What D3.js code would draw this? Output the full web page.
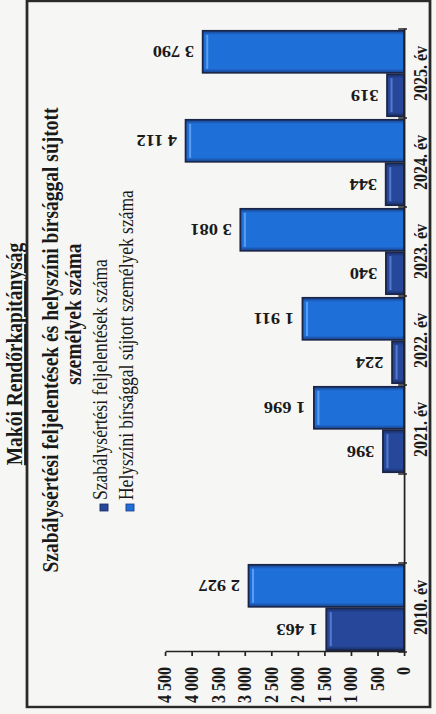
<!DOCTYPE html>
<html>
  <head>
    <meta charset="utf-8">
    <script type="text/javascript" src="https://d3js.org/d3.v7.min.js"></script>
    <style>
      body { margin: 0; background: #f6f6f4; }
    </style>
  </head>
  <body>
  </body>
  <script>

  // data
  var years = ["2010. év", "", "2021. év", "2022. év", "2023. év", "2024. év", "2025. év"];
  var seriesNames = ["Szabálysértési feljelentések száma", "Helyszíni bírsággal sújtott személyek száma"];
  var feljelentesek = [1463, null, 396, 224, 340, 344, 319];
  var helyszini = [2927, null, 1696, 1911, 3081, 4112, 3790];
  var valueTicks = [0, 500, 1000, 1500, 2000, 2500, 3000, 3500, 4000, 4500];

  var colors = ["#27489a", "#1f6fd9"];
  var edgeColors = ["#172c62", "#173f86"];
  var lightColors = ["#5a82d2", "#63a6f2"];
  var serif = "'Liberation Serif', 'Times New Roman', serif";

  // the scanned page is turned on its side, and a bit stretched across
  var K = 1.15;
  var H = 714;
  function vx(sx) { return sx / K; }     // screen x -> local v
  function uy(sy) { return H - sy; }     // screen y -> local u

  var svg = d3.select("body").append("svg")
              .attr("width", 436)
              .attr("height", 714);

  svg.append("rect").attr("width", 436).attr("height", 714).attr("fill", "#f6f6f4");

  var g = svg.append("g")
             .attr("transform", "translate(0," + H + ") rotate(-90) scale(1," + K + ")");

  var defs = svg.append("defs");
  colors.forEach(function(c, i) {
    var grad = defs.append("linearGradient").attr("id", "bar" + i)
                   .attr("x1", 0).attr("x2", 1).attr("y1", 0).attr("y2", 0);
    grad.append("stop").attr("offset", 0).attr("stop-color", edgeColors[i]);
    grad.append("stop").attr("offset", 0.1).attr("stop-color", c);
    grad.append("stop").attr("offset", 0.9).attr("stop-color", c);
    grad.append("stop").attr("offset", 1).attr("stop-color", edgeColors[i]);
  });

  // frame
  g.append("rect")
   .attr("x", uy(707)).attr("y", vx(27))
   .attr("width", uy(1) - uy(707)).attr("height", vx(430) - vx(27))
   .attr("fill", "none").attr("stroke", "#2a2a2a").attr("stroke-width", 2.4);

  // header above the frame
  g.append("text")
   .attr("x", uy(354)).attr("y", vx(22))
   .attr("text-anchor", "middle")
   .style("font-family", serif).style("font-weight", "bold").style("font-size", "19.5px")
   .style("text-decoration", "underline")
   .attr("fill", "#1a1a1a")
   .text("Makói Rendőrkapitányság");

  // title
  var titleLines = ["Szabálysértési feljelentések és helyszíni bírsággal sújtott", "személyek száma"];
  var titleCenters = [uy(340), uy(314)];
  var titleBase = [vx(58), vx(81)];
  titleLines.forEach(function(t, i) {
    g.append("text")
     .attr("x", titleCenters[i]).attr("y", titleBase[i])
     .attr("text-anchor", "middle")
     .style("font-family", serif).style("font-weight", "bold").style("font-size", "19.5px")
     .attr("fill", "#1a1a1a")
     .text(t);
  });

  // legend
  seriesNames.forEach(function(name, i) {
    g.append("rect")
     .attr("x", uy(511)).attr("y", vx(100 + 26 * i))
     .attr("width", 7).attr("height", 8 / K)
     .attr("fill", colors[i]).attr("stroke", edgeColors[i]).attr("stroke-width", 0.8);
    g.append("text")
     .attr("x", uy(500)).attr("y", vx(107 + 26 * i))
     .style("font-family", serif).style("font-size", "17.5px")
     .attr("fill", "#1a1a1a")
     .text(name);
  });

  // scales
  var x0 = d3.scaleBand().domain(years).range([uy(652), uy(29)]).padding(0);
  var x1 = d3.scaleBand().domain([0, 1]).range([0, x0.bandwidth()])
             .paddingInner(0.03).paddingOuter(0.04);
  var y = d3.scaleLinear().domain([0, 4500]).range([vx(404), vx(165)]);

  var fmt = d3.formatLocale({decimal: ",", thousands: "\u00a0", grouping: [3], currency: ["", ""]}).format(",d");

  var rows = years.map(function(yr, i) {
    return { year: yr, vals: [feljelentesek[i], helyszini[i]] };
  });

  var bars = [];
  rows.forEach(function(r) {
    r.vals.forEach(function(v, j) {
      if (v != null) bars.push({ year: r.year, s: j, value: v });
    });
  });

  var bar = g.selectAll("g.bar").data(bars).enter().append("g").attr("class", "bar");

  bar.append("rect")
     .attr("x", function(d) { return x0(d.year) + x1(d.s); })
     .attr("y", function(d) { return y(d.value); })
     .attr("width", x1.bandwidth())
     .attr("height", function(d) { return y(0) - y(d.value); })
     .attr("fill", function(d) { return "url(#bar" + d.s + ")"; })
     .attr("stroke", "#1b2547").attr("stroke-width", 1.6);

  bar.append("rect")
     .attr("x", function(d) { return x0(d.year) + x1(d.s) + 4; })
     .attr("y", function(d) { return y(d.value) + 3; })
     .attr("width", x1.bandwidth() - 8)
     .attr("height", 1.8)
     .attr("fill", function(d) { return lightColors[d.s]; })
     .attr("opacity", 0.85);

  bar.append("text")
     .attr("transform", function(d) {
       return "translate(" + (x0(d.year) + x1(d.s) + x1.bandwidth() / 2) + "," + (y(d.value) - 7.5) + ") rotate(-90)";
     })
     .attr("dy", "0.35em")
     .style("font-family", serif).style("font-weight", "bold").style("font-size", "16px")
     .attr("fill", "#1a1a1a")
     .text(function(d) { return fmt(d.value); });

  // value axis
  var yAxis = g.append("g")
               .attr("transform", "translate(" + x0.range()[0] + ",0)")
               .call(d3.axisLeft(y).tickValues(valueTicks).tickFormat(fmt)
                       .tickSize(4).tickSizeOuter(0).tickPadding(11));

  // category axis
  var xAxis = g.append("g")
               .attr("transform", "translate(0," + y(0) + ")")
               .call(d3.axisBottom(x0).tickSize(0).tickPadding(9));

  var bounds = years.map(function(d) { return x0(d); }).concat([x0.range()[1]]);
  xAxis.selectAll("line.bound").data(bounds).enter().append("line")
       .attr("class", "bound")
       .attr("x1", function(d) { return d; }).attr("x2", function(d) { return d; })
       .attr("y1", -5).attr("y2", 2.6)
       .attr("stroke", "#222").attr("stroke-width", 1.5);

  [yAxis, xAxis].forEach(function(a) {
    a.selectAll("path, line").attr("stroke", "#222").attr("stroke-width", 1.5);
    a.selectAll("text")
     .style("font-family", serif).style("font-weight", "bold").style("font-size", "16px")
     .attr("fill", "#1a1a1a");
  });

  </script>
</html>
